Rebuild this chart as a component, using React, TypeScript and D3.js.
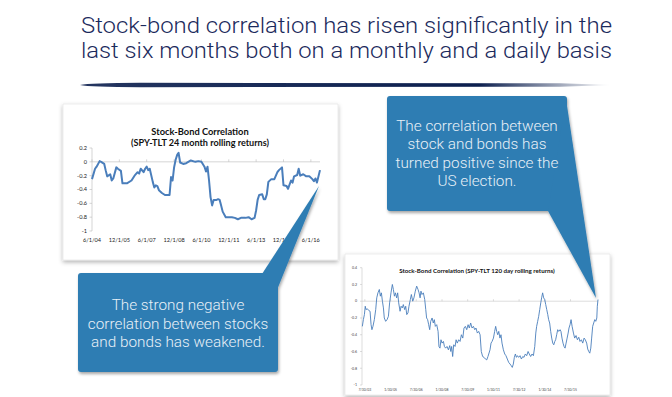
// App.tsx
import React from 'react';
import * as d3 from 'd3';

const titleLines = [
  'Stock-bond correlation has risen significantly in the',
  'last six months both on a monthly and a daily basis',
];

const topNote = ['The correlation between', 'stock and bonds has', 'turned positive since the', 'US election.'];
const bottomNote = ['The strong negative', 'correlation between stocks', 'and bonds has weakened.'];

// monthly chart: [months since 6/1/04, correlation]
const monthlySeries: [number, number][] = [
  [0, -0.25], [2, -0.1], [3, -0.07], [5, 0.01], [6, 0.0], [8, -0.03], [9, -0.12], [10, -0.21],
  [12, -0.18], [13, -0.27], [14, -0.24], [16, -0.08], [17, -0.1], [19, -0.13], [20, -0.31],
  [23, -0.31], [26, -0.27], [28, -0.2], [30, -0.15], [31, -0.17], [32, -0.1], [34, -0.15],
  [35, -0.1], [36, -0.07], [37, -0.12], [38, -0.1], [40, -0.29], [41, -0.37], [42, -0.34],
  [43, -0.35], [44, -0.41], [46, -0.45], [48, -0.48], [51, -0.48], [52, -0.22], [53, -0.27],
  [54, -0.08], [55, 0.03], [56, 0.1], [57, 0.13], [58, -0.01], [60, -0.03], [62, -0.02],
  [65, 0.02], [68, 0.0], [70, 0.01], [72, 0.0], [74, -0.07], [75, -0.14], [76, -0.07],
  [77, -0.27], [78, -0.51], [79, -0.63], [80, -0.55], [82, -0.55], [83, -0.54], [84, -0.55],
  [85, -0.63], [86, -0.72], [88, -0.8], [92, -0.8], [94, -0.81], [96, -0.83], [98, -0.81],
  [101, -0.81], [103, -0.8], [105, -0.83], [107, -0.81], [108, -0.7], [109, -0.55], [110, -0.48],
  [112, -0.47], [113, -0.54], [114, -0.54], [115, -0.47], [116, -0.29], [118, -0.25], [120, -0.25],
  [122, -0.15], [123, -0.12], [125, -0.08], [126, -0.34], [128, -0.35], [129, -0.39], [131, -0.27],
  [132, -0.3], [133, -0.21], [135, -0.19], [136, -0.1], [137, -0.2], [139, -0.18], [141, -0.21],
  [143, -0.21], [145, -0.25], [146, -0.28], [147, -0.24], [148, -0.3], [150, -0.12],
];
const monthlyTicks = ['6/1/04', '12/1/05', '6/1/07', '12/1/08', '6/1/10', '12/1/11', '6/1/13', '12/1/14', '6/1/16'];
const monthlyYTicks = [0.2, 0, -0.2, -0.4, -0.6, -0.8, -1];

// daily chart: [decimal year, correlation]
const dailySeries: [number, number][] = [
  [2003.43, -0.3], [2003.49, -0.22], [2003.55, -0.16], [2003.6, -0.06], [2003.64, -0.1], [2003.72, -0.09],
  [2003.8, -0.11], [2003.88, -0.12], [2003.94, -0.28], [2003.99, -0.34], [2004.05, -0.3], [2004.13, -0.22],
  [2004.21, -0.1], [2004.27, 0.04], [2004.34, 0.1], [2004.42, 0.14], [2004.48, 0.06], [2004.54, 0.1],
  [2004.6, 0.0], [2004.66, -0.08], [2004.71, -0.2], [2004.79, -0.24], [2004.87, -0.22], [2004.95, -0.18],
  [2005.02, -0.02], [2005.1, 0.1], [2005.18, 0.2], [2005.24, 0.14], [2005.3, 0.06], [2005.36, 0.1],
  [2005.43, 0.04], [2005.49, 0.1], [2005.55, -0.02], [2005.63, -0.12], [2005.69, -0.06], [2005.76, -0.08],
  [2005.82, -0.04], [2005.9, -0.1], [2005.96, -0.06], [2006.02, -0.16], [2006.09, -0.14], [2006.15, -0.06],
  [2006.23, 0.02], [2006.29, 0.08], [2006.37, 0.0], [2006.44, 0.04], [2006.52, 0.12], [2006.6, 0.18],
  [2006.68, 0.14], [2006.74, 0.1], [2006.8, 0.04], [2006.85, 0.12], [2006.91, 0.08], [2006.99, 0.1],
  [2007.07, 0.02], [2007.13, -0.1], [2007.18, -0.2], [2007.24, -0.22], [2007.3, -0.28], [2007.36, -0.34],
  [2007.42, -0.24], [2007.5, -0.2], [2007.57, -0.26], [2007.63, -0.22], [2007.69, -0.3], [2007.77, -0.28],
  [2007.85, -0.36], [2007.9, -0.54], [2007.96, -0.56], [2008.02, -0.46], [2008.08, -0.5], [2008.16, -0.48],
  [2008.22, -0.54], [2008.29, -0.56], [2008.37, -0.54], [2008.45, -0.58], [2008.53, -0.53], [2008.59, -0.6],
  [2008.64, -0.54], [2008.7, -0.66], [2008.76, -0.52], [2008.84, -0.54], [2008.9, -0.46], [2008.97, -0.5],
  [2009.05, -0.46], [2009.13, -0.48], [2009.21, -0.4], [2009.29, -0.44], [2009.36, -0.32], [2009.44, -0.3],
  [2009.52, -0.34], [2009.6, -0.28], [2009.67, -0.32], [2009.75, -0.26], [2009.83, -0.32], [2009.91, -0.3],
  [2009.99, -0.34], [2010.06, -0.32], [2010.14, -0.38], [2010.22, -0.36], [2010.3, -0.4], [2010.37, -0.6],
  [2010.45, -0.66], [2010.53, -0.67], [2010.61, -0.69], [2010.69, -0.7], [2010.76, -0.66], [2010.88, -0.58],
  [2010.94, -0.5], [2011.0, -0.48], [2011.08, -0.44], [2011.15, -0.36], [2011.21, -0.3], [2011.27, -0.36],
  [2011.33, -0.4], [2011.39, -0.36], [2011.46, -0.44], [2011.52, -0.4], [2011.58, -0.5], [2011.66, -0.58],
  [2011.74, -0.63], [2011.81, -0.65], [2011.89, -0.69], [2011.97, -0.73], [2012.05, -0.75], [2012.12, -0.77],
  [2012.18, -0.79], [2012.24, -0.75], [2012.3, -0.67], [2012.36, -0.63], [2012.42, -0.67], [2012.48, -0.65],
  [2012.55, -0.67], [2012.63, -0.65], [2012.71, -0.69], [2012.79, -0.66], [2012.86, -0.67], [2012.94, -0.63],
  [2013.02, -0.65], [2013.1, -0.6], [2013.17, -0.63], [2013.25, -0.66], [2013.33, -0.63], [2013.41, -0.65],
  [2013.49, -0.54], [2013.55, -0.38], [2013.6, -0.3], [2013.66, -0.24], [2013.72, -0.18], [2013.78, -0.1],
  [2013.84, -0.02], [2013.89, 0.04], [2013.95, 0.1], [2014.01, 0.04], [2014.07, 0.02], [2014.13, -0.04],
  [2014.19, -0.1], [2014.25, -0.16], [2014.3, -0.22], [2014.36, -0.26], [2014.42, -0.36], [2014.48, -0.44],
  [2014.54, -0.5], [2014.6, -0.52], [2014.66, -0.48], [2014.71, -0.46], [2014.77, -0.4], [2014.83, -0.34],
  [2014.89, -0.36], [2014.97, -0.34], [2015.02, -0.36], [2015.08, -0.44], [2015.14, -0.5], [2015.2, -0.54],
  [2015.26, -0.56], [2015.32, -0.5], [2015.38, -0.44], [2015.44, -0.38], [2015.49, -0.32], [2015.55, -0.28],
  [2015.61, -0.22], [2015.67, -0.3], [2015.75, -0.38], [2015.82, -0.44], [2015.9, -0.41], [2015.98, -0.46],
  [2016.06, -0.43], [2016.13, -0.48], [2016.21, -0.46], [2016.29, -0.5], [2016.37, -0.44], [2016.44, -0.46],
  [2016.52, -0.5], [2016.58, -0.57], [2016.64, -0.6], [2016.7, -0.62], [2016.76, -0.56], [2016.81, -0.44],
  [2016.87, -0.3], [2016.93, -0.26], [2016.99, -0.22], [2017.05, -0.24], [2017.11, -0.2], [2017.14, -0.06],
  [2017.18, 0.02],
];
const dailyTicks = ['7/30/03', '1/30/05', '7/30/06', '1/30/08', '7/30/09', '1/30/11', '7/30/12', '1/30/14', '7/30/15'];
const dailyYTicks = [0.4, 0.2, 0, -0.2, -0.4, -0.6, -0.8, -1];

const parseTick = d3.timeParse('%m/%d/%y');
const fromYear = (y: number) => {
  const start = new Date(Math.floor(y), 0, 1).getTime();
  const end = new Date(Math.floor(y) + 1, 0, 1).getTime();
  return new Date(start + (y - Math.floor(y)) * (end - start));
};

const NAVY = '#1b2a5c';
const LINE = '#4a7ebb';
const BOX = '#2f7db3';
const chartFont = 'Lato, "Liberation Sans", sans-serif';
const slideFont = 'Roboto, "Liberation Sans", sans-serif';

export default function App() {
  // monthly chart scales
  const start = new Date(2004, 5, 1);
  const xL = d3.scaleTime().domain([start, new Date(2016, 11, 1)]).range([92, 320]);
  const yL = d3.scaleLinear().domain([-1, 0.2]).range([231, 148]);
  const lineL = d3.line<[number, number]>()
    .x(d => xL(d3.timeMonth.offset(start, d[0])))
    .y(d => yL(d[1]));

  // daily chart scales
  const xR = d3.scaleTime().domain([fromYear(2003.41), fromYear(2017.18)]).range([362, 598]);
  const yR = d3.scaleLinear().domain([-1, 0.4]).range([385, 267.7]);
  const lineR = d3.line<[number, number]>()
    .x(d => xR(fromYear(d[0])))
    .y(d => yR(d[1]));

  return (
    <svg width={672} height={397} style={{ position: 'absolute', left: 0, top: 0, background: '#fff' }}>
      <defs>
        <filter id="card" x="-10%" y="-10%" width="120%" height="130%">
          <feDropShadow dx="0" dy="2" stdDeviation="2" floodColor="#000" floodOpacity="0.3" />
        </filter>
        <filter id="box" x="-10%" y="-10%" width="130%" height="130%">
          <feDropShadow dx="1" dy="2" stdDeviation="1.5" floodColor="#000" floodOpacity="0.35" />
        </filter>
        <linearGradient id="rule" x1="0" x2="1" y1="0" y2="0">
          <stop offset="0" stopColor="#0c1f4e" stopOpacity="0.9" />
          <stop offset="0.75" stopColor="#0c1f4e" stopOpacity="1" />
          <stop offset="1" stopColor="#0c1f4e" stopOpacity="0" />
        </linearGradient>
      </defs>

      {/* slide title */}
      {titleLines.map((t, i) => (
        <text key={i} x={81} y={33 + i * 25} textLength={531} lengthAdjust="spacingAndGlyphs"
          fontFamily={slideFont} fontWeight={300} fontSize={22} fill={NAVY}>{t}</text>
      ))}
      <path d="M80,85 Q90,83 140,82.8 L560,83.2 L612,85 L560,86.8 L140,87.2 Q90,87 80,85 Z" fill="url(#rule)" />

      {/* monthly chart card */}
      <rect x={63} y={104} width={275} height={156} fill="#fff" stroke="#e2e2e2" strokeWidth={0.6} filter="url(#card)" />
      <g fontFamily={chartFont}>
        <text x={200} y={134.5} textAnchor="middle" fontWeight={700} fontSize={9.3} fill="#111">Stock-Bond Correlation</text>
        <text x={200} y={146} textAnchor="middle" fontWeight={700} fontSize={9.1} fill="#111">(SPY-TLT 24 month rolling returns)</text>
        <line x1={92} x2={92} y1={yL(0.2)} y2={yL(-1)} stroke="#bbb" strokeWidth={0.6} />
        {monthlyYTicks.map(t => (
          <g key={t}>
            <line x1={89.5} x2={92} y1={yL(t)} y2={yL(t)} stroke="#bbb" strokeWidth={0.6} />
            <text x={87} y={yL(t)} dy="0.35em" textAnchor="end" fontSize={5.6} fill="#222">{t}</text>
          </g>
        ))}
        <line x1={92} x2={320} y1={yL(0)} y2={yL(0)} stroke="#bbb" strokeWidth={0.6} />
        {monthlyTicks.map(l => (
          <g key={l}>
            <line x1={xL(parseTick(l)!)} x2={xL(parseTick(l)!)} y1={yL(0) - 2.5} y2={yL(0)} stroke="#bbb" strokeWidth={0.6} />
            <text x={xL(parseTick(l)!)} y={241.5} textAnchor="middle" fontSize={5.6} fill="#222">{l}</text>
          </g>
        ))}
        <path d={lineL(monthlySeries) || ''} fill="none" stroke={LINE} strokeWidth={2} strokeLinejoin="round" />
      </g>

      {/* daily chart card */}
      <rect x={345} y={254} width={265} height={141} fill="#fff" stroke="#e2e2e2" strokeWidth={0.6} filter="url(#card)" />
      <g fontFamily={chartFont}>
        <text x={477} y={273} textAnchor="middle" fontWeight={700} fontSize={6.2} fill="#111">Stock-Bond Correlation (SPY-TLT 120 day rolling returns)</text>
        <line x1={362} x2={362} y1={yR(0.4)} y2={yR(-1)} stroke="#bbb" strokeWidth={0.5} />
        {dailyYTicks.map(t => (
          <g key={t}>
            <line x1={360} x2={362} y1={yR(t)} y2={yR(t)} stroke="#bbb" strokeWidth={0.5} />
            <text x={357} y={yR(t)} dy="0.35em" textAnchor="end" fontSize={3.6} fill="#444">{t}</text>
          </g>
        ))}
        <line x1={362} x2={598} y1={yR(0)} y2={yR(0)} stroke="#bbb" strokeWidth={0.5} />
        {dailyTicks.map(l => (
          <g key={l}>
            <line x1={xR(parseTick(l)!)} x2={xR(parseTick(l)!)} y1={yR(0) - 2} y2={yR(0)} stroke="#bbb" strokeWidth={0.5} />
            <text x={xR(parseTick(l)!)} y={391} textAnchor="middle" fontSize={3.4} fill="#444">{l}</text>
          </g>
        ))}
        <path d={lineR(dailySeries) || ''} fill="none" stroke={LINE} strokeWidth={0.9} strokeLinejoin="round" />
      </g>

      {/* callouts */}
      <g filter="url(#box)" fill={BOX}>
        <rect x={387} y={96} width={180} height={115} rx={3} />
        <polygon points="566,99 548,211 596,298" />
      </g>
      {topNote.map((t, i) => (
        <text key={i} x={477} y={130.7 + i * 18.5} textAnchor="middle" fontFamily={slideFont} fontWeight={300}
          fontSize={15.3} fill="#e8f0f7">{t}</text>
      ))}

      <g filter="url(#box)" fill={BOX}>
        <rect x={78} y={273} width={200} height={99} rx={3} />
        <polygon points="262,274 277,290 319,186" />
      </g>
      {bottomNote.map((t, i) => (
        <text key={i} x={178} y={310 + i * 18.7} textAnchor="middle" fontFamily={slideFont} fontWeight={300}
          fontSize={15.3} fill="#e8f0f7">{t}</text>
      ))}
    </svg>
  );
}
